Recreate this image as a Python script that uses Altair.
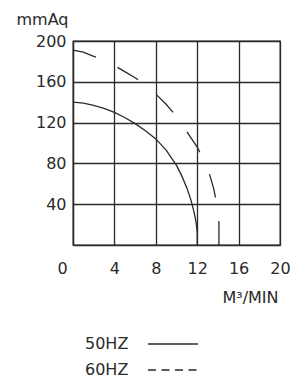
import altair as alt
import pandas as pd

# 50 Hz curve (solid)
x50 = [0, 1, 2, 3, 4, 5, 6, 7, 8, 9, 10, 10.5, 11, 11.4, 11.7, 11.9, 12, 12]
y50 = [140, 139, 137, 134, 130, 125, 119, 112, 104, 93, 78, 68, 56, 44, 32, 22, 12, 0]

# 60 Hz curve (dashed)
x60 = [0, 1, 2, 3, 4, 5, 6, 7, 8, 9, 10, 11, 12, 12.7, 13.2, 13.6, 13.9, 14.1, 14.1]
y60 = [191, 189, 185, 181, 176, 170, 164, 157, 148, 138, 126, 111, 96, 82, 69, 55, 40, 22, 0]

x_ticks = [0, 4, 8, 12, 16, 20]
y_ticks = [40, 80, 120, 160, 200]
legend_labels = ["50HZ", "60HZ"]

FONT = "DejaVu Sans"
FS = 16
INK = "#2a2a2a"

d50 = pd.DataFrame({"q": x50, "p": y50, "i": range(len(x50))})
d60 = pd.DataFrame({"q": x60, "p": y60, "i": range(len(x60))})

xs = alt.Scale(domain=[0, 20], nice=False, zero=False)
ys = alt.Scale(domain=[0, 200], nice=False, zero=False)

x_axis = alt.Axis(
    values=x_ticks, grid=True, tickSize=0, domain=True, labelPadding=15,
    labelFontSize=FS, labelFont=FONT, labelColor=INK, labelFlush=False,
    labelOffset={"condition": {"test": "datum.value === 0", "value": -11}, "value": 0},
    title="M³/MIN", titleFont=FONT, titleFontSize=FS, titleFontWeight="normal",
    titleColor=INK, titleX=177, titleY=52, titleAlign="center", titleBaseline="middle",
)
y_axis = alt.Axis(
    values=y_ticks, grid=True, tickSize=0, domain=True, labelPadding=7,
    labelFontSize=FS, labelFont=FONT, labelColor=INK, labelFlush=False,
    title="mmAq", titleAngle=0, titleFont=FONT, titleFontSize=FS,
    titleFontWeight="normal", titleColor=INK, titleX=-57, titleY=-22,
    titleAlign="left", titleBaseline="middle",
)

line50 = alt.Chart(d50).mark_line(color=INK, strokeWidth=1.3, clip=False).encode(
    x=alt.X("q:Q", scale=xs, axis=x_axis),
    y=alt.Y("p:Q", scale=ys, axis=y_axis),
    order="i:Q",
)
line60 = alt.Chart(d60).mark_line(color=INK, strokeWidth=1.3, strokeDash=[24, 24], clip=False).encode(
    x=alt.X("q:Q", scale=xs),
    y=alt.Y("p:Q", scale=ys),
    order="i:Q",
)

leg = pd.DataFrame({"label": legend_labels})
txt50 = alt.Chart(leg.iloc[[0]]).mark_text(
    align="left", baseline="middle", font=FONT, fontSize=FS, color=INK
).encode(text="label:N", x=alt.value(12), y=alt.value(303))
txt60 = alt.Chart(leg.iloc[[1]]).mark_text(
    align="left", baseline="middle", font=FONT, fontSize=FS, color=INK
).encode(text="label:N", x=alt.value(12), y=alt.value(329))
rule50 = alt.Chart(leg.iloc[[0]]).mark_rule(color=INK, strokeWidth=1.3).encode(
    x=alt.value(75), x2=alt.value(125), y=alt.value(303)
)
rule60 = alt.Chart(leg.iloc[[1]]).mark_rule(color=INK, strokeWidth=1.3, strokeDash=[8, 5.5]).encode(
    x=alt.value(75), x2=alt.value(125), y=alt.value(329)
)

chart = alt.layer(line50, line60, txt50, txt60, rule50, rule60).properties(
    width=207, height=204,
    autosize=alt.AutoSizeParams(type="none"),
    padding={"left": 65, "top": 33, "right": 18, "bottom": 134},
    background="white",
).configure_axis(
    gridColor=INK, gridWidth=1.3, gridOpacity=1, domainColor=INK, domainWidth=1.3,
).configure_view(stroke=INK, strokeWidth=1.3)

chart.save("out.html", embed_options={"renderer": "svg", "actions": False})
